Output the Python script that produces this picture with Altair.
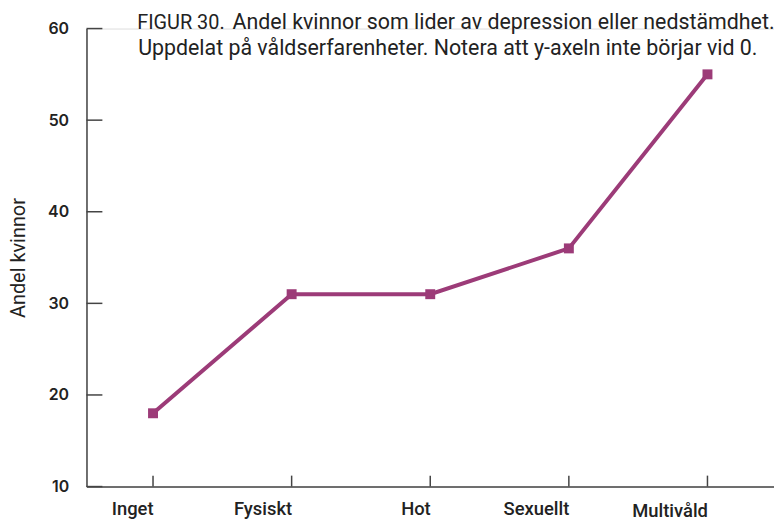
import altair as alt
import pandas as pd

categories = ["Inget", "Fysiskt", "Hot", "Sexuellt", "Multivåld"]
values = [18, 31, 31, 36, 55]
y_ticks = [10, 20, 30, 40, 50, 60]
title_prefix = ["FIGUR 30."]
title_rest = ["Andel kvinnor som lider av depression eller nedstämdhet."]
title_line2 = ["Uppdelat på våldserfarenheter. Notera att y-axeln inte börjar vid 0."]
y_title = "Andel kvinnor"

df = pd.DataFrame({"kategori": categories, "andel": values})
ticks_df = pd.DataFrame({"v": y_ticks})
cat_df = pd.DataFrame({"kategori": categories})

COLOR = "#9c3b78"
AXC = "#444444"
TXT = "#222222"

xscale = alt.Scale(domain=categories, type="point", padding=0.48)
yscale = alt.Scale(domain=[10, 60], nice=False, zero=False)

x_enc = alt.X("kategori:N", scale=xscale, sort=categories,
              axis=alt.Axis(title=None, labelAngle=0, tickSize=0,
                            labelPadding={"condition": {"test": "datum.value == 'Multivåld'", "value": 24},
                                          "value": 22},
                            labelFont="Roboto", labelFontWeight=500, labelFontSize=18.5,
                            labelColor=TXT, domainColor=AXC, domainWidth=1.5, grid=False))
y_enc = alt.Y("andel:Q", scale=yscale,
              axis=alt.Axis(title=y_title, values=y_ticks, tickSize=0, labelPadding=18,
                            labelFont="Inter", labelFontWeight=600, labelFontSize=16,
                            labelColor=TXT, titleFont="Roboto", titleFontWeight=400,
                            titleFontSize=20, titleColor=TXT, titlePadding=19,
                            domainColor=AXC, domainWidth=1.5, grid=False))

line = alt.Chart(df).mark_line(color=COLOR, strokeWidth=4).encode(x=x_enc, y=y_enc)
pts = alt.Chart(df).mark_point(shape="square", filled=True, size=100, color=COLOR, opacity=1).encode(
    x=alt.X("kategori:N", scale=xscale, sort=categories),
    y=alt.Y("andel:Q", scale=yscale))

yt = alt.Chart(ticks_df).mark_rule(color=AXC, strokeWidth=1.5).encode(
    y=alt.Y("v:Q", scale=yscale), x=alt.value(0), x2=alt.value(16))
xt = alt.Chart(cat_df).mark_rule(color=AXC, strokeWidth=1.5).encode(
    x=alt.X("kategori:N", scale=xscale, sort=categories), y=alt.value(450), y2=alt.value(461))

t1 = alt.Chart(pd.DataFrame({"t": title_prefix})).mark_text(
    align="left", baseline="alphabetic", font="Roboto", fontSize=20, fontWeight=400, color=TXT
).encode(text="t:N", x=alt.value(51), y=alt.value(0))
t2 = alt.Chart(pd.DataFrame({"t": title_rest})).mark_text(
    align="left", baseline="alphabetic", font="Roboto", fontSize=21.5, fontWeight=400, color=TXT
).encode(text="t:N", x=alt.value(147), y=alt.value(0))
t3 = alt.Chart(pd.DataFrame({"t": title_line2})).mark_text(
    align="left", baseline="alphabetic", font="Roboto", fontSize=21.5, fontWeight=400, color=TXT
).encode(text="t:N", x=alt.value(52), y=alt.value(27))

chart = alt.layer(yt, xt, line, pts, t1, t2, t3).properties(
    width=692, height=461,
    padding={"left": 79, "top": 19, "right": 0, "bottom": 36},
    autosize=alt.AutoSizeParams(type="none"),
).configure_view(stroke=None).configure_axis(grid=False).configure(background="white")

chart.save("out.html", embed_options={"renderer": "svg", "actions": False})
